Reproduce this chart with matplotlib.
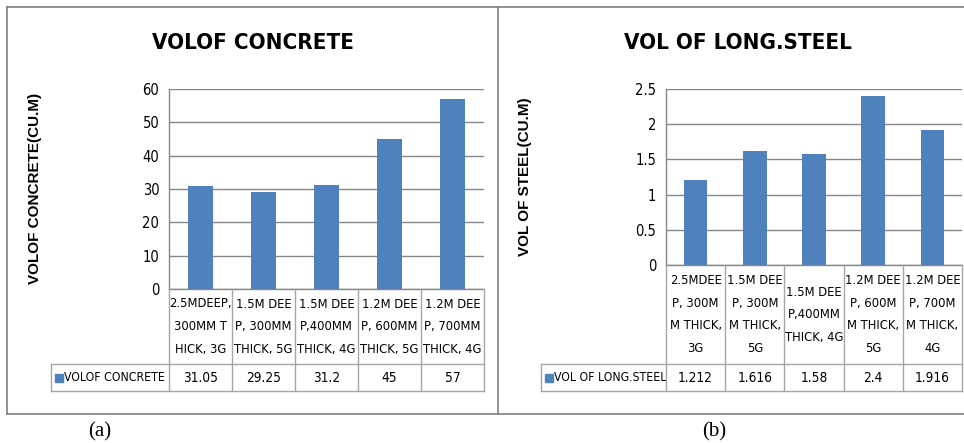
import matplotlib
matplotlib.use("Agg")
import matplotlib.pyplot as plt
from matplotlib.lines import Line2D

# ── data ────────────────────────────────────────────────────────────────────
conc_labels = ["2.5MDEEP,\n300MM T\nHICK, 3G", "1.5M DEE\nP, 300MM\nTHICK, 5G",
               "1.5M DEE\nP,400MM\nTHICK, 4G", "1.2M DEE\nP, 600MM\nTHICK, 5G",
               "1.2M DEE\nP, 700MM\nTHICK, 4G"]
conc_values = [31.05, 29.25, 31.2, 45, 57]
conc_value_text = ["31.05", "29.25", "31.2", "45", "57"]
conc_ticks = [0, 10, 20, 30, 40, 50, 60]
conc_tick_text = ["0", "10", "20", "30", "40", "50", "60"]

steel_labels = ["2.5MDEE\nP, 300M\nM THICK,\n3G", "1.5M DEE\nP, 300M\nM THICK,\n5G",
                "1.5M DEE\nP,400MM\nTHICK, 4G", "1.2M DEE\nP, 600M\nM THICK,\n5G",
                "1.2M DEE\nP, 700M\nM THICK,\n4G"]
steel_values = [1.212, 1.616, 1.58, 2.4, 1.916]
steel_value_text = ["1.212", "1.616", "1.58", "2.4", "1.916"]
steel_ticks = [0, 0.5, 1, 1.5, 2, 2.5]
steel_tick_text = ["0", "0.5", "1", "1.5", "2", "2.5"]

# ── style ───────────────────────────────────────────────────────────────────
W, H = 964, 443
BLUE = "#4F81BD"
GRID = "#878787"
CELL = "#A6A6A6"
NARROW = dict(family="DejaVu Sans", fontstretch="condensed")

fig = plt.figure(figsize=(W / 100, H / 100), dpi=100)


def fx(px):
    return px / W


def fy(py):
    return 1 - py / H


def panel(left, right, top, bottom, cat_bottom, leg_bottom, leg_left,
          labels, values, value_text, ticks, tick_text, title, ylabel,
          series, title_x, ylabel_x, ylabel_y, caption, caption_x):
    ax = fig.add_axes([fx(left), fy(bottom), (right - left) / W, (bottom - top) / H])
    n = len(values)
    ax.bar(range(n), values, width=0.4, color=BLUE, zorder=3)
    ax.set_xlim(-0.5, n - 0.5)
    ax.set_ylim(ticks[0], ticks[-1])
    ax.set_yticks(ticks)
    ax.set_yticklabels(tick_text, fontsize=10.5, **NARROW)
    ax.set_xticks([])
    ax.tick_params(axis="y", length=0, pad=7)
    ax.yaxis.grid(True, color=GRID, lw=1.0, zorder=0)
    for s in ax.spines.values():
        s.set_visible(False)

    tr = ax.get_xaxis_transform()
    h = bottom - top
    y_cat = -(cat_bottom - bottom) / h
    y_leg = -(leg_bottom - bottom) / h
    x_leg = -0.5 - (left - leg_left) * n / (right - left)

    def seg(xs, ys, color=CELL):
        ax.add_line(Line2D(xs, ys, color=color, lw=1.0, transform=tr,
                           clip_on=False, zorder=4))

    # axis line + table grid
    seg([-0.5, -0.5], [1, 0], GRID)
    seg([-0.5, n - 0.5], [0, 0], GRID)
    for i in range(n + 1):
        seg([i - 0.5, i - 0.5], [0, y_leg])
    seg([x_leg, n - 0.5], [y_cat, y_cat])
    seg([x_leg, n - 0.5], [y_leg, y_leg])
    seg([x_leg, x_leg], [y_cat, y_leg])

    for i in range(n):
        ax.text(i, y_cat / 2, labels[i], transform=tr, ha="center", va="center",
                fontsize=9.3, linespacing=1.95, clip_on=False, **NARROW)
        ax.text(i, (y_cat + y_leg) / 2, value_text[i], transform=tr, ha="center",
                va="center", fontsize=9.8, clip_on=False, **NARROW)

    px = n / (right - left)
    ax.plot([x_leg + 8 * px], [(y_cat + y_leg) / 2], marker="s", ms=5.5, color=BLUE,
            transform=tr, clip_on=False)
    ax.text(x_leg + 13 * px, (y_cat + y_leg) / 2, series, transform=tr, ha="left",
            va="center", fontsize=8.8, clip_on=False, **NARROW)

    fig.text(fx(title_x), fy(43), title, ha="center", va="center",
             fontsize=16, fontweight="bold", **NARROW)
    fig.text(fx(ylabel_x), fy(ylabel_y), ylabel, ha="center", va="center",
             rotation=90, family="Liberation Sans", fontsize=11, fontweight="bold")
    fig.text(fx(caption_x), fy(432), caption, ha="center", va="center",
             family="Liberation Serif", fontsize=15)
    return ax


panel(169, 484, 89, 289, 364, 391, 51,
      conc_labels, conc_values, conc_value_text, conc_ticks, conc_tick_text,
      "VOLOF CONCRETE", "VOLOF CONCRETE(CU.M)", "VOLOF CONCRETE",
      253, 35, 188, "(a)", 100)
panel(666, 962, 89, 265, 364, 391, 541,
      steel_labels, steel_values, steel_value_text, steel_ticks, steel_tick_text,
      "VOL OF LONG.STEEL", "VOL OF STEEL(CU.M)", "VOL OF LONG.STEEL",
      738, 525, 177, "(b)", 714)

# panel frames
for xs, ys in [([7, 964], [7, 7]), ([7, 964], [414, 414]),
               ([7, 7], [7, 414]), ([498, 498], [7, 414])]:
    fig.add_artist(Line2D([fx(x) for x in xs], [fy(y) for y in ys],
                          color="#808080", lw=1.2))

fig.savefig("out.png", dpi=100)
